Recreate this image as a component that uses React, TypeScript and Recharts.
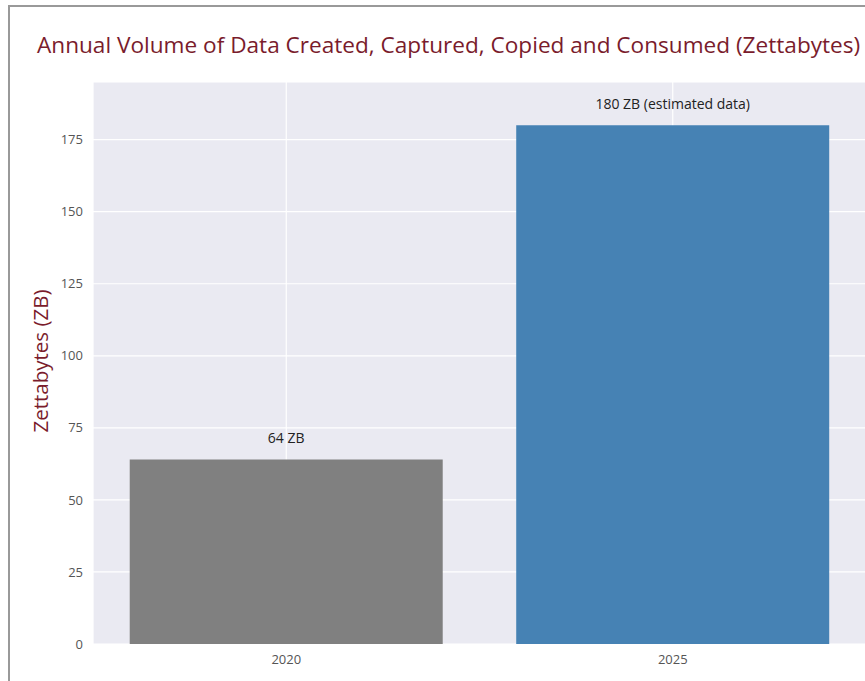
import { BarChart, Bar, XAxis, YAxis, CartesianGrid, Cell, LabelList } from 'recharts'

const years = ['2020', '2025']
const volumes = [64, 180]
const barLabels = ['64 ZB', '180 ZB (estimated data)']
const barColors = ['#808080', '#4682b4']
const yTicks = [0, 25, 50, 75, 100, 125, 150, 175]

const data = years.map((year, i) => ({ year, volume: volumes[i], label: barLabels[i] }))

const FONT = '"Open Sans", "DejaVu Sans", sans-serif'

const BarTopLabel = (props: any) => {
  const { x, y, width, value } = props
  return (
    <text x={x + width / 2} y={y - 20} textAnchor="middle" dominantBaseline="middle" fontSize={14} fontFamily={FONT} fill="#222">
      {value}
    </text>
  )
}

export default function App() {
  return (
    <div style={{ position: 'absolute', left: 0, top: 0, width: 865, height: 681, overflow: 'hidden', background: '#fff' }}>
      <div style={{ position: 'absolute', left: 8, top: 5, right: 0, bottom: 0, borderLeft: '2px solid #999', borderTop: '2px solid #999' }} />
      <div style={{ position: 'absolute', left: 37, top: 29, whiteSpace: 'nowrap', fontFamily: FONT, fontSize: 22.6, color: '#7a1c2c' }}>
        Annual Volume of Data Created, Captured, Copied and Consumed (Zettabytes)
      </div>
      <div style={{ position: 'absolute', left: 40, top: 361, width: 0, height: 0 }}>
        <div style={{ position: 'absolute', transform: 'translate(-50%, -50%) rotate(-90deg)', whiteSpace: 'nowrap', fontFamily: FONT, fontSize: 20.5, color: '#7a1c2c' }}>
          Zettabytes (ZB)
        </div>
      </div>
      <div style={{ position: 'absolute', left: 0, top: 0 }}>
        <BarChart width={870} height={681} data={data} margin={{ top: 82, right: 4, bottom: 0, left: 0 }} barCategoryGap="9.5%">
          <CartesianGrid stroke="#ffffff" strokeWidth={1.2} fill="#eaeaf2" />
          <XAxis dataKey="year" height={37} tickSize={0} tickMargin={11} axisLine={false} tickLine={false}
            tick={{ fontSize: 13, fill: '#555', fontFamily: FONT }} />
          <YAxis width={93} domain={[0, 195]} ticks={yTicks} tickSize={0} tickMargin={10} axisLine={false} tickLine={false}
            tick={{ fontSize: 13, fill: '#555', fontFamily: FONT }} />
          <Bar dataKey="volume" isAnimationActive={false}>
            {data.map((d, i) => (
              <Cell key={d.year} fill={barColors[i]} />
            ))}
            <LabelList dataKey="label" content={<BarTopLabel />} />
          </Bar>
        </BarChart>
      </div>
    </div>
  )
}
